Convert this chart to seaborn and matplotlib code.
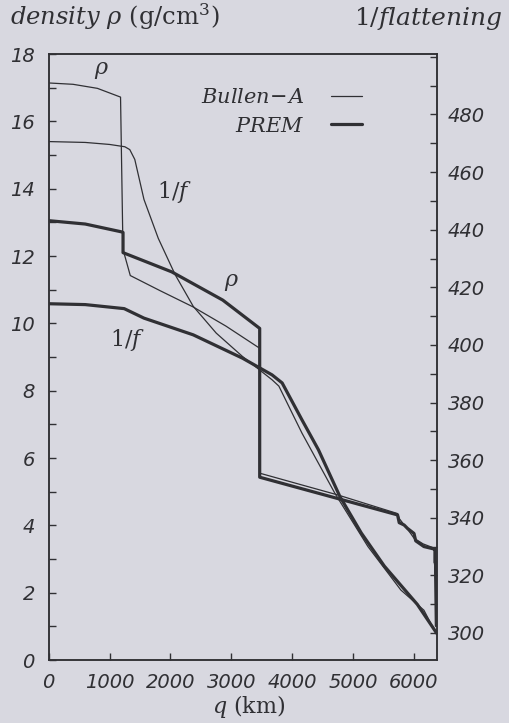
import matplotlib
matplotlib.use("Agg")
import matplotlib.pyplot as plt
from matplotlib.ticker import MultipleLocator
import seaborn as sns

# density, Bullen-A (thin)
q_rho_bullen = [0, 400, 800, 1180, 1220, 1340, 1830, 2370, 2910, 3466, 3466, 4100, 4756, 5731,
                5760, 5950, 6000, 6150, 6338, 6338, 6371]
rho_bullen = [17.14, 17.10, 16.98, 16.72, 12.20, 11.42, 10.97, 10.49, 9.92, 9.26, 5.55, 5.23, 4.90, 4.35,
              4.20, 3.75, 3.62, 3.45, 3.32, 2.84, 2.84]

# density, PREM (thick)
q_rho_prem = [0, 600, 1190, 1221, 1221, 2020, 2860, 3466, 3466, 4600, 5731, 5758, 5839, 5894,
              6001, 6029, 6164, 6326, 6346, 6346, 6356, 6356, 6368, 6371]
rho_prem = [13.05, 12.95, 12.72, 12.70, 12.10, 11.53, 10.69, 9.85, 5.43, 4.87, 4.31, 4.08, 4.01, 3.91,
            3.76, 3.54, 3.37, 3.30, 3.30, 2.90, 2.90, 2.60, 1.02, 1.02]

# 1/flattening, Bullen-A (thin)
q_f_bullen = [0, 600, 1000, 1251, 1332, 1414, 1565, 1800, 2077, 2374, 2752, 3183, 3669, 3781,
              4160, 4701, 5244, 5785, 6164, 6371]
f_bullen = [470.6, 470.3, 469.6, 468.8, 467.8, 464.4, 450.5, 437.0, 424.4, 413.4, 404.1, 396.0, 387.9, 385.7,
            369.4, 348.5, 330.0, 314.9, 307.9, 299.5]

# 1/flattening, PREM (thick)
q_f_prem = [0, 600, 1240, 1565, 2374, 3183, 3669, 3835, 4160, 4431, 4783, 5135, 5514, 6056, 6371]
f_prem = [414.3, 414.0, 412.6, 409.3, 403.5, 395.4, 389.6, 386.8, 374.0, 363.6, 347.4, 334.7, 323.2, 309.9, 300.0]

paper = "#d8d8e0"
ink = "#303034"

sns.set_theme(style="ticks")
plt.rcParams["font.family"] = ["DejaVu Sans"]
plt.rcParams["mathtext.fontset"] = "dejavuserif"
plt.rcParams["text.color"] = ink
plt.rcParams["axes.edgecolor"] = ink
plt.rcParams["xtick.color"] = ink
plt.rcParams["ytick.color"] = ink

fig = plt.figure(figsize=(5.09, 7.23), dpi=100, facecolor=paper)
ax = fig.add_axes([0.0957, 0.0871, 0.7619, 0.8382], facecolor=paper)
ax2 = ax.twinx()

thin, thick = 0.9, 2.3
sns.lineplot(x=q_rho_bullen, y=rho_bullen, ax=ax, color=ink, lw=thin, sort=False,
             estimator=None, label=r"$\mathit{Bullen\!-\!A}$", legend=False)
sns.lineplot(x=q_rho_prem, y=rho_prem, ax=ax, color=ink, lw=thick, sort=False,
             estimator=None, label=r"$\mathit{PREM}$", legend=False)
sns.lineplot(x=q_f_bullen, y=f_bullen, ax=ax2, color=ink, lw=thin, sort=False,
             estimator=None, legend=False)
sns.lineplot(x=q_f_prem, y=f_prem, ax=ax2, color=ink, lw=thick, sort=False,
             estimator=None, legend=False)

ax.set_xlim(0, 6371)
ax.set_ylim(0, 18)
ax2.set_ylim(290.6, 501.0)

ax.xaxis.set_major_locator(MultipleLocator(1000))
ax.yaxis.set_major_locator(MultipleLocator(2))
ax.yaxis.set_minor_locator(MultipleLocator(1))
ax2.yaxis.set_major_locator(MultipleLocator(20))
ax2.yaxis.set_minor_locator(MultipleLocator(10))
ax2.set_yticks(range(300, 481, 20))

ax.tick_params(axis="both", which="both", direction="in", length=5, width=1.0,
               labelsize=14, top=False, right=False)
ax.tick_params(axis="y", pad=10)
ax.tick_params(axis="x", pad=9)
ax2.tick_params(axis="y", which="both", direction="in", length=5, width=1.0,
                labelsize=14, pad=8)
for lab in ax.get_xticklabels() + ax.get_yticklabels() + ax2.get_yticklabels():
    lab.set_fontstyle("italic")
for a in (ax, ax2):
    for s in a.spines.values():
        s.set_visible(True)
        s.set_linewidth(1.1)
        s.set_color(ink)
ax.set_xlabel("")
ax.set_ylabel("")
ax2.set_ylabel("")

# curve labels
ax.text(870, 17.5, r"$\rho$", fontsize=16, ha="center", va="center")
ax.text(2064, 13.9, r"$1/f$", fontsize=16, ha="center", va="center")
ax.text(3006, 11.2, r"$\rho$", fontsize=16, ha="center", va="center")
ax.text(1300, 9.5, r"$1/f$", fontsize=16, ha="center", va="center")

handles, labels = ax.get_legend_handles_labels()
ax.legend(handles, labels, loc="center right", bbox_to_anchor=(0.808, 0.905),
          frameon=False, markerfirst=False, fontsize=15, handlelength=1.5,
          handletextpad=1.3, borderpad=0, borderaxespad=0, labelspacing=0.4)

fig.text(0.02, 0.965, r"$\mathit{density}\ \rho\ (\mathrm{g/cm}^3)$", fontsize=17.5,
         ha="left", va="baseline")
fig.text(0.988, 0.965, r"$\mathit{1/flattening}$", fontsize=18, ha="right", va="baseline")
fig.text(0.489, 0.014, r"$q\ (\mathrm{km})$", fontsize=16, ha="center", va="baseline")

fig.savefig("out.png", dpi=100, facecolor=paper)
